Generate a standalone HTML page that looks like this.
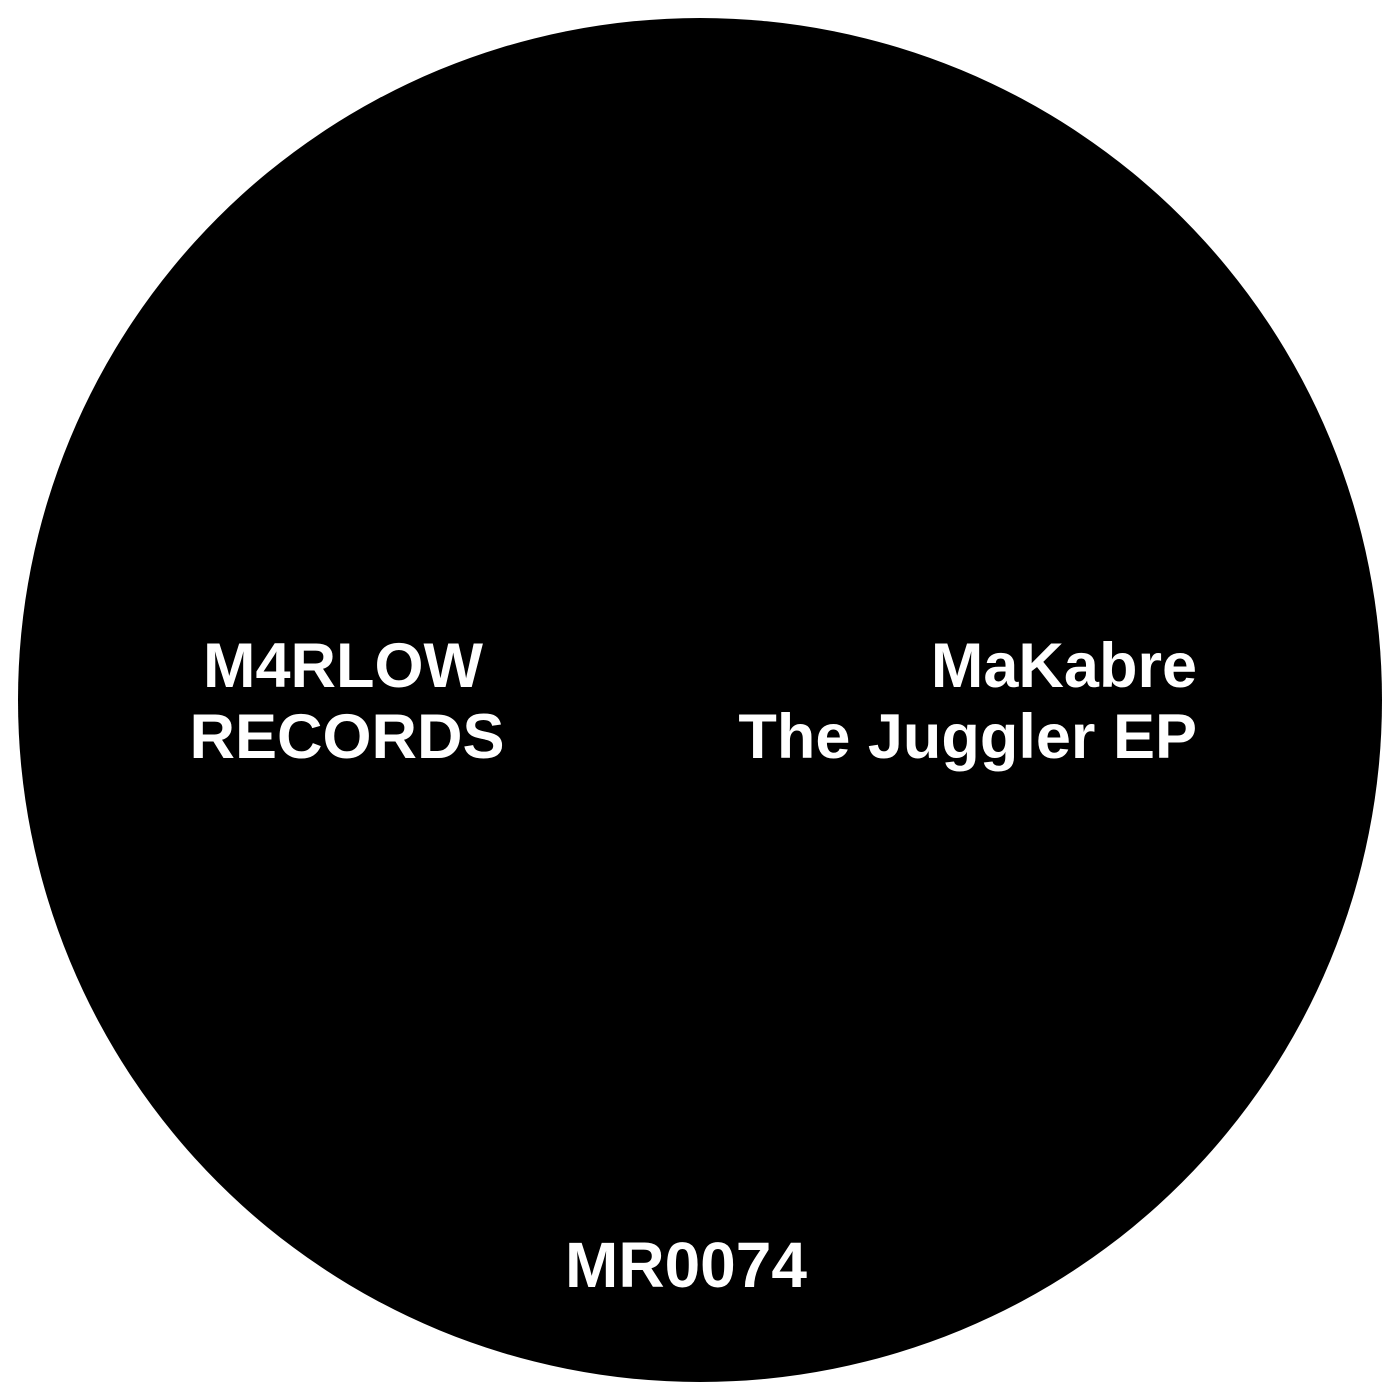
<!DOCTYPE html>
<html><head><meta charset="utf-8"><style>
html,body{margin:0;padding:0;background:#fff;}
svg{display:block;}
text{font-family:"Liberation Sans",Arial,sans-serif;font-weight:bold;fill:#fff;}
</style></head><body>
<svg width="1400" height="1400" viewBox="0 0 1400 1400" xmlns="http://www.w3.org/2000/svg">
<rect width="1400" height="1400" fill="#fff"/>
<circle cx="700" cy="700" r="682" fill="#000"/>
<text x="343" y="687" font-size="63" text-anchor="middle">M4RLOW</text>
<text x="347" y="758" font-size="63" text-anchor="middle">RECORDS</text>
<text x="1197" y="687" font-size="63" text-anchor="end">MaKabre</text>
<text x="1197" y="758" font-size="63" text-anchor="end">The Juggler EP</text>
<text x="686" y="1287" font-size="64" text-anchor="middle">MR0074</text>
</svg>
</body></html>
